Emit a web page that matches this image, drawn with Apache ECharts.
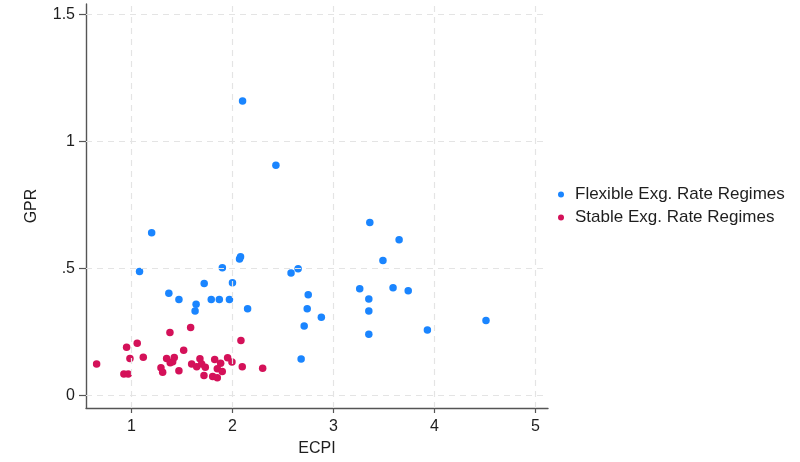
<!DOCTYPE html>
<html>
<head>
<meta charset="utf-8">
<script src="https://cdn.jsdelivr.net/npm/echarts@6/dist/echarts.min.js"></script>
<style>html,body{margin:0;padding:0;background:#fff}#c{width:800px;height:462px}</style>
</head>
<body>
<div id="c"></div>
<script>
const flexible = [
  [2.10,1.158],[2.43,0.906],[1.20,0.640],[1.08,0.488],[1.90,0.503],[2.08,0.546],[2.07,0.537],
  [1.72,0.441],[2.00,0.444],[1.37,0.402],[1.47,0.378],[1.79,0.378],[1.87,0.378],[1.97,0.378],
  [1.64,0.359],[1.63,0.333],[2.15,0.341],[2.58,0.482],[2.65,0.499],[3.36,0.681],[3.65,0.613],
  [3.49,0.531],[2.75,0.396],[2.74,0.341],[2.88,0.308],[2.71,0.274],[2.68,0.144],[3.26,0.420],
  [3.35,0.380],[3.35,0.333],[3.35,0.241],[3.59,0.424],[3.74,0.412],[3.93,0.258],[4.51,0.295]
];
const stable = [
  [0.655,0.124],[0.925,0.085],[0.968,0.085],[0.952,0.190],[0.985,0.146],[1.057,0.206],[1.117,0.151],
  [1.292,0.109],[1.309,0.092],[1.381,0.248],[1.348,0.146],[1.384,0.129],[1.408,0.133],[1.424,0.150],
  [1.470,0.098],[1.517,0.178],[1.586,0.268],[1.596,0.124],[1.646,0.113],[1.678,0.145],[1.695,0.124],
  [1.731,0.111],[1.718,0.079],[1.824,0.142],[1.883,0.127],[1.850,0.105],[1.899,0.095],[1.804,0.075],
  [1.850,0.070],[1.952,0.149],[1.995,0.132],[2.084,0.216],[2.097,0.113],[2.299,0.107]
];
const seriesNames = ['Flexible Exg. Rate Regimes', 'Stable Exg. Rate Regimes'];
const xTicks = [1, 2, 3, 4, 5];
const yTicks = [0, 0.5, 1, 1.5];
const yTickLabels = ['0', '.5', '1', '1.5'];

const font = 'Liberation Sans, Arial, sans-serif';
const textColor = '#1e1e1e';
const gridData = xTicks.map(v => ({xAxis: v})).concat(yTicks.map(v => ({yAxis: v})));

const chart = echarts.init(document.getElementById('c'));
chart.setOption({
  animation: false,
  backgroundColor: '#fff',
  grid: {left: 86, right: 252, top: 4, bottom: 54, containLabel: false},
  legend: {
    orient: 'vertical', left: 558, top: 186, padding: 0,
    itemWidth: 18, itemHeight: 6, itemGap: 6,
    icon: 'circle',
    textStyle: {fontFamily: font, fontSize: 17, lineHeight: 17, color: textColor},
    data: seriesNames
  },
  xAxis: {
    type: 'value', min: 0.55, max: 5.124,
    name: 'ECPI', nameLocation: 'middle', nameGap: 33,
    nameTextStyle: {fontFamily: font, fontSize: 16, color: textColor},
    axisLine: {show: true, onZero: false, lineStyle: {color: '#555', width: 1.4}},
    axisTick: {show: true, customValues: xTicks, length: 5, lineStyle: {color: '#555', width: 1.2}},
    axisLabel: {customValues: xTicks, margin: 11, fontFamily: font, fontSize: 16, color: textColor},
    splitLine: {show: false}
  },
  yAxis: {
    type: 'value', min: -0.049, max: 1.54,
    name: 'GPR', nameLocation: 'middle', nameGap: 46,
    nameTextStyle: {fontFamily: font, fontSize: 16, color: textColor},
    axisLine: {show: true, onZero: false, lineStyle: {color: '#555', width: 1.4}},
    axisTick: {show: true, customValues: yTicks, length: 7, lineStyle: {color: '#555', width: 1.2}},
    axisLabel: {
      customValues: yTicks, margin: 11, fontFamily: font, fontSize: 16, color: textColor,
      formatter: v => { const i = yTicks.findIndex(t => Math.abs(t - v) < 1e-9); return i >= 0 ? yTickLabels[i] : ''; }
    },
    splitLine: {show: false}
  },
  series: [
    {
      type: 'scatter', name: 'grid', data: [], silent: true,
      markLine: {
        silent: true, symbol: 'none', label: {show: false}, animation: false,
        lineStyle: {color: '#e4e4e4', type: [6, 5], width: 1.2},
        data: gridData
      }
    },
    {
      type: 'scatter', name: seriesNames[0], data: flexible, symbolSize: 7.5,
      itemStyle: {color: '#1A85FF', opacity: 1}
    },
    {
      type: 'scatter', name: seriesNames[1], data: stable, symbolSize: 7.5,
      itemStyle: {color: '#D41159', opacity: 1}
    }
  ]
});
</script>
</body>
</html>
